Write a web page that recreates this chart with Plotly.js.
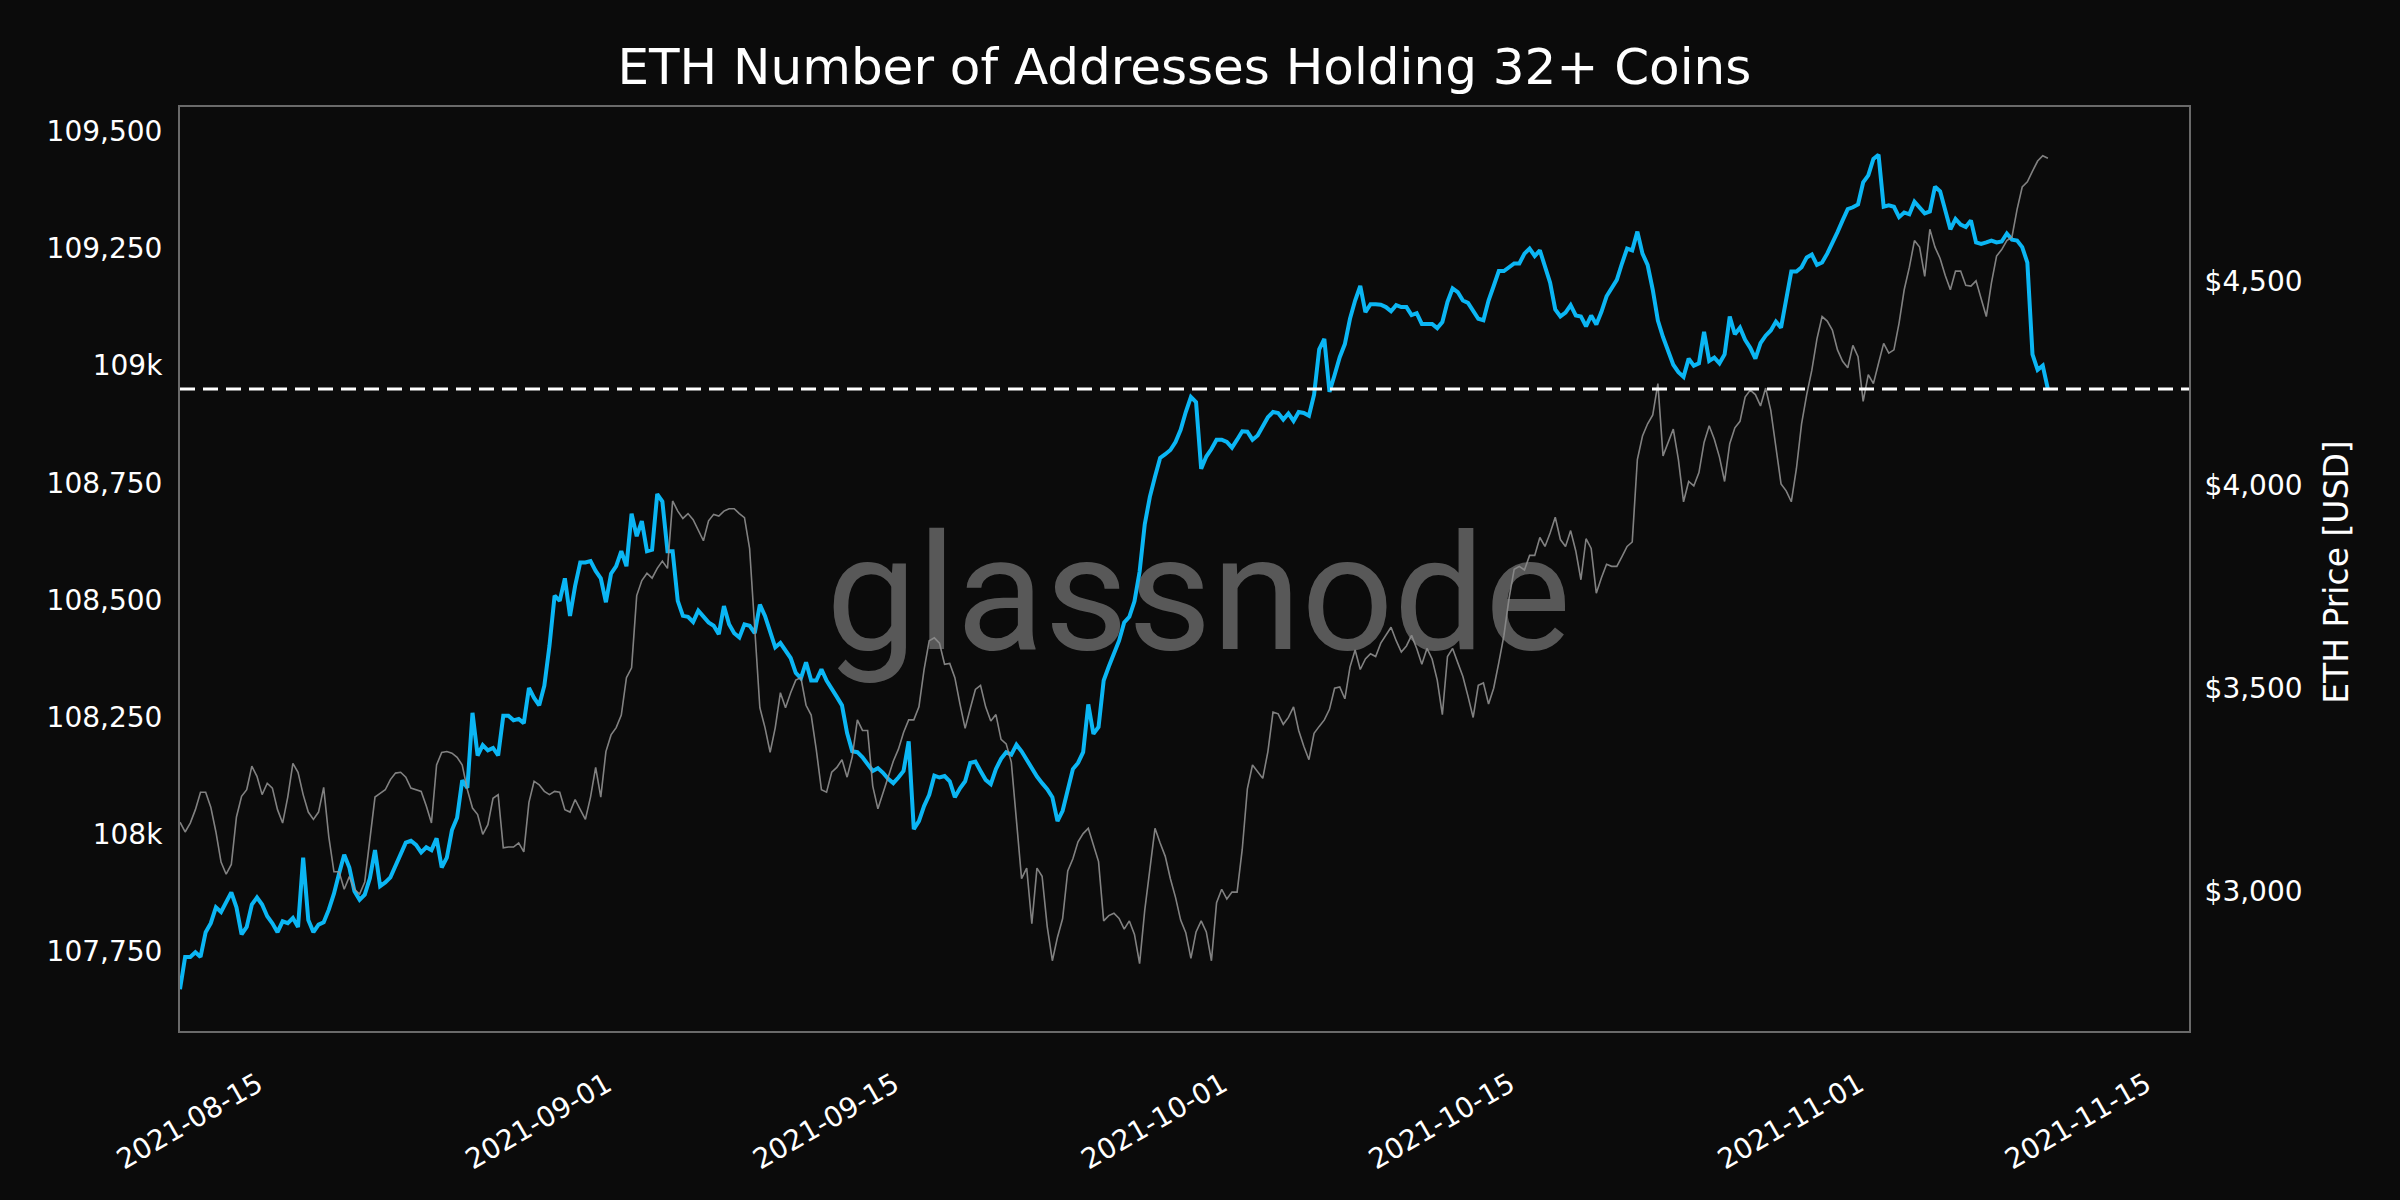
<!DOCTYPE html>
<html>
<head>
<meta charset="utf-8">
<script src="https://cdn.plot.ly/plotly-3.0.1.min.js"></script>
<style>
  html, body { margin: 0; padding: 0; background: #0b0b0b; }
  #chart { width: 2400px; height: 1200px; }
</style>
</head>
<body>
<div id="chart"></div>
<script>
// samples every 6 hours, first one at 2021-08-10 22:00
const startTime = Date.UTC(2021, 7, 10, 22);
const stepHours = 6;

// number of addresses holding 32+ ETH (left axis)
const addresses = [
  107669, 107738, 107738, 107748, 107738, 107791, 107810, 107844, 107834, 107857,
  107876, 107844, 107786, 107802, 107850, 107865, 107850, 107825, 107810, 107791,
  107814, 107810, 107821, 107802, 107950, 107817, 107791, 107807, 107812, 107839,
  107873, 107916, 107956, 107929, 107878, 107860, 107871, 107906, 107966, 107889,
  107897, 107908, 107934, 107959, 107982, 107986, 107977, 107961, 107972, 107966,
  107991, 107929, 107950, 108009, 108035, 108115, 108099, 108259, 108168, 108190,
  108179, 108184, 108168, 108253, 108253, 108243, 108246, 108237, 108312, 108291,
  108275, 108317, 108402, 108509, 108498, 108546, 108466, 108530, 108580, 108580,
  108583, 108562, 108546, 108495, 108556, 108572, 108604, 108572, 108684, 108636,
  108668, 108604, 108607, 108726, 108710, 108604, 108604, 108498, 108466, 108464,
  108453, 108477, 108463, 108452, 108445, 108427, 108487, 108448, 108429, 108420,
  108448, 108445, 108429, 108490, 108466, 108429, 108399, 108408, 108390, 108376,
  108344, 108333, 108367, 108328, 108328, 108352, 108328, 108312, 108293, 108275,
  108216, 108177, 108175, 108164, 108150, 108135, 108141, 108131, 108118, 108109,
  108121, 108135, 108198, 108011, 108028, 108060, 108084, 108125, 108121, 108124,
  108113, 108079, 108098, 108113, 108152, 108155, 108135, 108116, 108107, 108139,
  108161, 108175, 108170, 108191, 108177, 108158, 108141, 108123, 108109, 108096,
  108079, 108028, 108050, 108096, 108139, 108152, 108175, 108277, 108214, 108229,
  108328, 108358, 108384, 108413, 108452, 108464, 108497, 108560, 108661, 108720,
  108763, 108803, 108811, 108820, 108837, 108863, 108901, 108933, 108922, 108780,
  108806, 108822, 108842, 108842, 108837, 108825, 108842, 108860, 108859, 108842,
  108851, 108871, 108890, 108901, 108899, 108885, 108898, 108882, 108901, 108899,
  108893, 108938, 109035, 109057, 108944, 108980, 109018, 109046, 109100, 109139,
  109170, 109114, 109131, 109131, 109130, 109125, 109116, 109129, 109125, 109125,
  109108, 109112, 109089, 109089, 109089, 109080, 109093, 109136, 109165, 109157,
  109139, 109134, 109116, 109100, 109097, 109139, 109170, 109202, 109202, 109210,
  109218, 109218, 109239, 109250, 109234, 109246, 109212, 109177, 109120, 109105,
  109113, 109129, 109107, 109105, 109084, 109107, 109088, 109115, 109148, 109166,
  109183, 109218, 109250, 109246, 109286, 109239, 109215, 109162, 109096, 109061,
  109029, 109002, 108986, 108976, 109015, 109000, 109005, 109072, 109010, 109017,
  109005, 109024, 109105, 109067, 109081, 109055, 109038, 109015, 109048, 109064,
  109075, 109094, 109081, 109139, 109201, 109201, 109210, 109231, 109237, 109215,
  109220, 109239, 109260, 109285, 109310, 109334, 109338, 109344, 109391, 109406,
  109441, 109450, 109339, 109342, 109339, 109317, 109327, 109323, 109350, 109336,
  109325, 109329, 109382, 109372, 109334, 109291, 109313, 109301, 109296, 109310,
  109263, 109260, 109263, 109267, 109263, 109265, 109282, 109269, 109267, 109253,
  109220, 109024, 108991, 109000, 108950
];

// ETH price in USD (right axis)
const price = [
  3169, 3145, 3167, 3200, 3243, 3243, 3206, 3145, 3071, 3041,
  3065, 3182, 3233, 3249, 3307, 3282, 3237, 3265, 3253, 3200,
  3167, 3231, 3314, 3292, 3237, 3194, 3176, 3194, 3255, 3133,
  3047, 3047, 3004, 3035, 3004, 2992, 3022, 3133, 3231, 3240,
  3249, 3274, 3290, 3292, 3280, 3253, 3249, 3245, 3209, 3167,
  3310, 3341, 3343, 3339, 3329, 3310, 3249, 3204, 3188, 3139,
  3163, 3228, 3237, 3106, 3108, 3108, 3118, 3096, 3218, 3270,
  3261, 3245, 3237, 3245, 3243, 3200, 3194, 3225, 3200, 3176,
  3231, 3304, 3231, 3343, 3384, 3402, 3433, 3525, 3549, 3727,
  3764, 3782, 3770, 3794, 3812, 3794, 3960, 3935, 3917, 3929,
  3914, 3886, 3862, 3911, 3927, 3923, 3935, 3941, 3941, 3929,
  3919, 3843, 3647, 3451, 3402, 3341, 3402, 3488, 3451, 3488,
  3519, 3525, 3457, 3433, 3347, 3249, 3243, 3292, 3304, 3323,
  3280, 3330, 3421, 3395, 3395, 3258, 3202, 3241, 3277, 3319,
  3349, 3390, 3421, 3421, 3453, 3545, 3616, 3623, 3610, 3558,
  3560, 3525, 3460, 3400, 3449, 3496, 3506, 3453, 3418, 3434,
  3373, 3362, 3317, 3173, 3030, 3056, 2919, 3056, 3036, 2912,
  2828, 2886, 2932, 3049, 3079, 3121, 3141, 3154, 3115, 3072,
  2926, 2939, 2945, 2932, 2906, 2926, 2893, 2821, 2952, 3056,
  3154, 3118, 3085, 3030, 2984, 2928, 2897, 2834, 2899, 2926,
  2899, 2828, 2971, 3004, 2980, 2997, 2997, 3102, 3251, 3310,
  3293, 3277, 3343, 3440, 3436, 3410, 3427, 3453, 3395, 3356,
  3323, 3388, 3405, 3421, 3447, 3499, 3502, 3473, 3551, 3593,
  3545, 3571, 3584, 3577, 3610, 3629, 3649, 3616, 3588, 3603,
  3629, 3597, 3558, 3597, 3571, 3519, 3434, 3577, 3597, 3562,
  3528, 3479, 3427, 3506, 3512, 3460, 3499, 3562, 3629, 3721,
  3792, 3799, 3790, 3826, 3826, 3870, 3848, 3881, 3920, 3865,
  3848, 3887, 3837, 3766, 3867, 3843, 3733, 3771, 3804, 3799,
  3799, 3823, 3848, 3859, 4062, 4120, 4150, 4172, 4249, 4071,
  4106, 4137, 4062, 3958, 4008, 3997, 4030, 4104, 4145, 4112,
  4068, 4008, 4101, 4140, 4156, 4216, 4233, 4222, 4194, 4238,
  4183, 4095, 4002, 3985, 3958, 4040, 4150, 4222, 4282, 4359,
  4414, 4403, 4381, 4332, 4304, 4288, 4343, 4315, 4205, 4271,
  4249, 4299, 4348, 4324, 4332, 4398, 4480, 4535, 4601, 4585,
  4513, 4629, 4585, 4557, 4515, 4480, 4526, 4526, 4491, 4489,
  4502, 4458, 4414, 4497, 4563, 4579, 4601, 4610, 4678, 4733,
  4746, 4772, 4797, 4810, 4804
];

const dateTicks = ["2021-08-15", "2021-09-01", "2021-09-15", "2021-10-01",
                   "2021-10-15", "2021-11-01", "2021-11-15"];
const addrTicks = [107750, 108000, 108250, 108500, 108750, 109000, 109250, 109500];
const addrTickText = ["107,750", "108k", "108,250", "108,500", "108,750", "109k", "109,250", "109,500"];
const priceTicks = [3000, 3500, 4000, 4500];
const priceTickText = ["$3,000", "$3,500", "$4,000", "$4,500"];

function stamp(i) {
  return new Date(startTime + i * stepHours * 3600e3).toISOString().slice(0, 19).replace("T", " ");
}
const times = addresses.map((_, i) => stamp(i));
const lastValue = addresses[addresses.length - 1];

const tickFont = { family: "DejaVu Sans", size: 28, color: "#ffffff" };
const frameColor = "#6a6a6a";

const addrTrace = {
  x: times,
  y: addresses,
  type: "scatter",
  mode: "lines",
  line: { color: "#0bb6f4", width: 4 },
  hoverinfo: "skip"
};
const priceTrace = {
  x: times,
  y: price,
  yaxis: "y2",
  type: "scatter",
  mode: "lines",
  line: { color: "rgba(150,150,150,0.85)", width: 1.6 },
  hoverinfo: "skip"
};

const layout = {
  width: 2400,
  height: 1200,
  paper_bgcolor: "#0b0b0b",
  plot_bgcolor: "#0b0b0b",
  margin: { l: 180, r: 211, t: 107, b: 169, pad: 0 },
  showlegend: false,
  title: {
    text: "ETH Number of Addresses Holding 32+ Coins",
    font: { family: "DejaVu Sans", size: 50, color: "#ffffff" },
    x: 0.4935, xanchor: "center",
    yref: "container", y: 0.945, yanchor: "middle"
  },
  xaxis: {
    type: "date",
    range: ["2021-08-10 22:00", "2021-11-16 19:00"],
    tickvals: dateTicks,
    ticktext: dateTicks,
    tickangle: -30,
    ticks: "outside", ticklen: 24, tickcolor: "rgba(0,0,0,0)",
    ticklabelshift: -6,
    tickfont: tickFont,
    showgrid: false, zeroline: false,
    showline: true, linecolor: frameColor, linewidth: 2, mirror: true
  },
  yaxis: {
    range: [107580, 109552],
    tickvals: addrTicks,
    ticktext: addrTickText,
    ticks: "outside", ticklen: 10, tickcolor: "rgba(0,0,0,0)",
    tickfont: tickFont,
    showgrid: false, zeroline: false,
    showline: true, linecolor: frameColor, linewidth: 2, mirror: true
  },
  yaxis2: {
    overlaying: "y",
    side: "right",
    range: [2655, 4930],
    tickvals: priceTicks,
    ticktext: priceTickText,
    ticks: "outside", ticklen: 9, tickcolor: "rgba(0,0,0,0)",
    tickfont: tickFont,
    showgrid: false, zeroline: false, showline: false
  },
  shapes: [{
    type: "line",
    xref: "paper", x0: 0, x1: 1,
    yref: "y", y0: lastValue, y1: lastValue,
    line: { color: "#ffffff", width: 3, dash: "15px,8px" }
  }],
  annotations: [
    {
      text: "glassnode",
      xref: "paper", yref: "paper",
      x: 0.507, y: 0.473,
      xanchor: "center", yanchor: "middle",
      showarrow: false,
      font: { family: "Roboto", size: 162, color: "rgba(140,140,140,0.6)" }
    },
    {
      text: "ETH Price [USD]",
      xref: "paper", yref: "paper",
      x: 1.0737, y: 0.497,
      xanchor: "center", yanchor: "middle",
      textangle: -90,
      showarrow: false,
      font: { family: "DejaVu Sans", size: 33, color: "#ffffff" }
    }
  ]
};

Plotly.newPlot("chart", [addrTrace, priceTrace], layout, { staticPlot: true, displayModeBar: false });
</script>
</body>
</html>
